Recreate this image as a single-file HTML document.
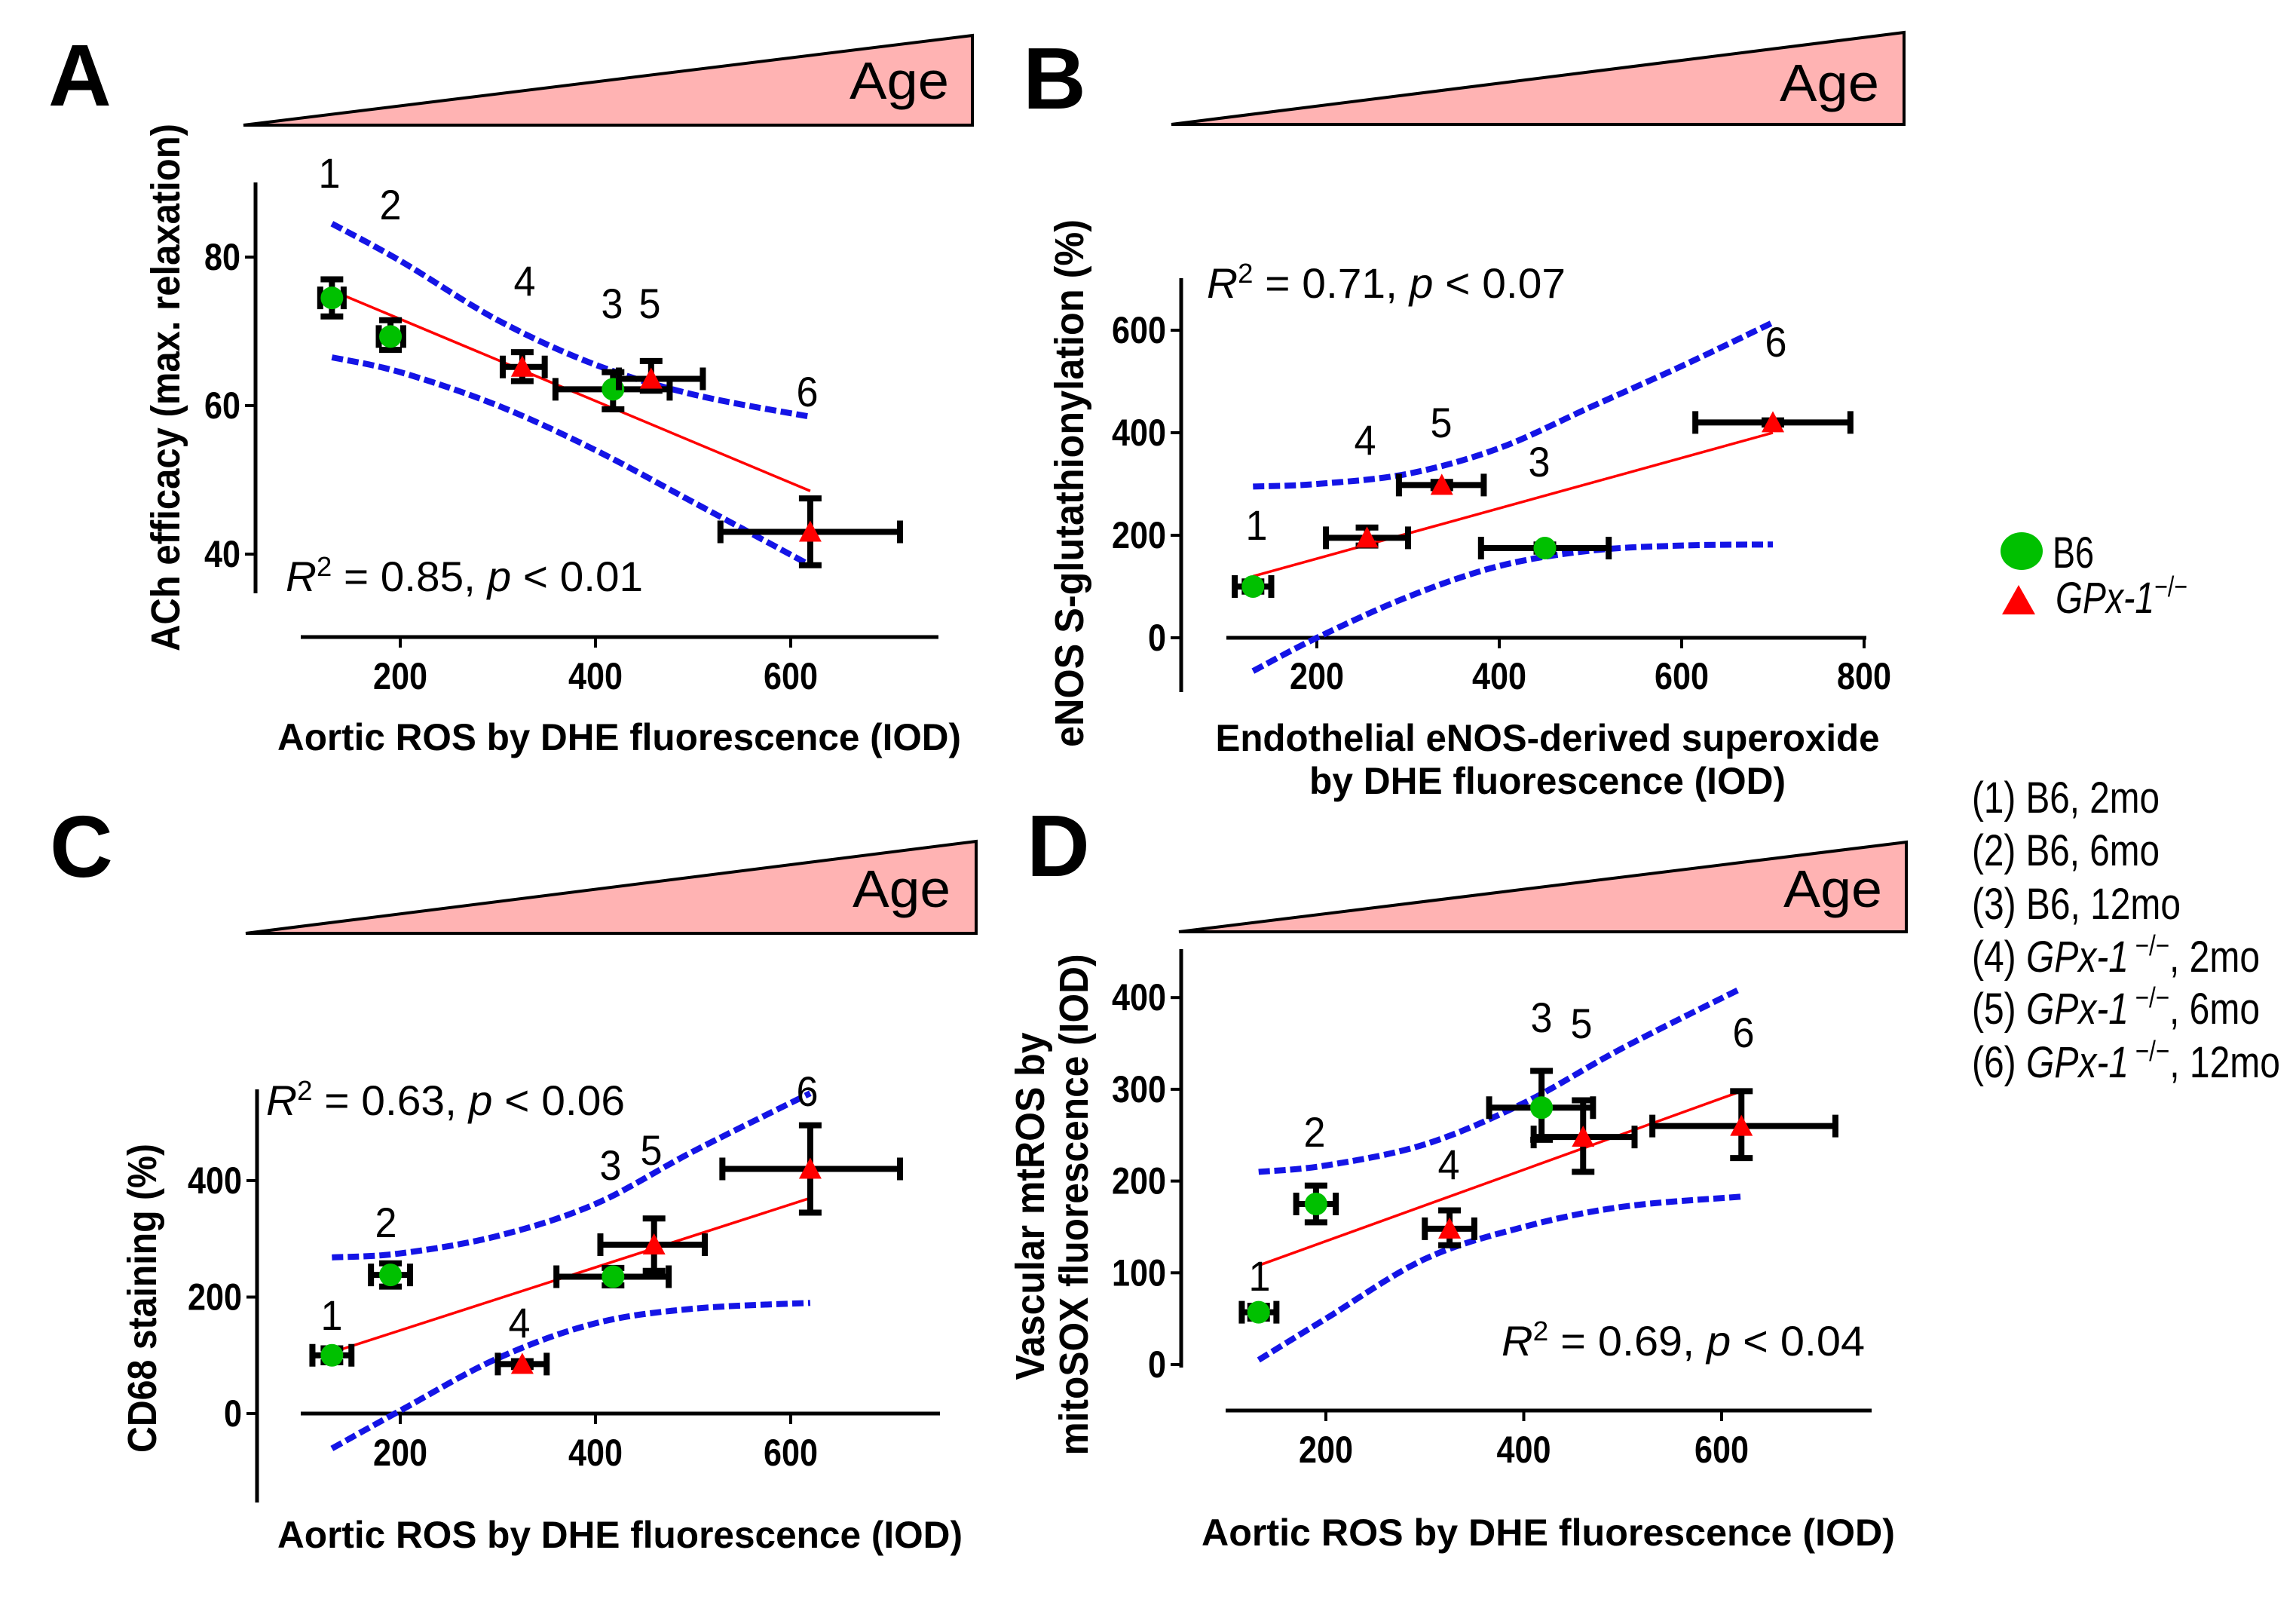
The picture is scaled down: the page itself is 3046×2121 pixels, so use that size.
<!DOCTYPE html>
<html><head><meta charset="utf-8"><style>
html,body{margin:0;padding:0;background:#fff}
svg{display:block}
text{font-family:"Liberation Sans",sans-serif}
</style></head><body>
<svg id="fig" xmlns="http://www.w3.org/2000/svg" width="3046" height="2121" viewBox="0 0 3046 2121">
<rect width="3046" height="2121" fill="#fff"/>
<!-- Age wedges -->
<g><polygon points="323,166 1290,47 1290,166" fill="#ffb3b3" stroke="#000" stroke-width="4"/><text x="1259" y="131" font-size="70" text-anchor="end" textLength="132" lengthAdjust="spacingAndGlyphs">Age</text></g>
<g><polygon points="1554,165 2526,43 2526,165" fill="#ffb3b3" stroke="#000" stroke-width="4"/><text x="2493" y="134" font-size="70" text-anchor="end" textLength="132" lengthAdjust="spacingAndGlyphs">Age</text></g>
<g><polygon points="326,1238 1295,1116 1295,1238" fill="#ffb3b3" stroke="#000" stroke-width="4"/><text x="1261" y="1203" font-size="70" text-anchor="end" textLength="130" lengthAdjust="spacingAndGlyphs">Age</text></g>
<g><polygon points="1564,1236 2529,1117 2529,1236" fill="#ffb3b3" stroke="#000" stroke-width="4"/><text x="2497" y="1203" font-size="70" text-anchor="end" textLength="131" lengthAdjust="spacingAndGlyphs">Age</text></g>
<!-- panel letters -->
<text x="64" y="140" font-size="116" font-weight="bold">A</text>
<text x="1357" y="144" font-size="116" font-weight="bold">B</text>
<text x="66" y="1163" font-size="116" font-weight="bold">C</text>
<text x="1362" y="1162" font-size="116" font-weight="bold">D</text>
<!-- axis titles -->
<text x="368" y="995" font-size="50" font-weight="bold" textLength="907" lengthAdjust="spacingAndGlyphs">Aortic ROS by DHE fluorescence (IOD)</text>
<text transform="translate(238,514) rotate(-90)" font-size="54" font-weight="bold" text-anchor="middle" textLength="700" lengthAdjust="spacingAndGlyphs">ACh efficacy (max. relaxation)</text>
<text x="2053" y="996" font-size="50" font-weight="bold" text-anchor="middle" textLength="881" lengthAdjust="spacingAndGlyphs">Endothelial eNOS-derived superoxide</text>
<text x="2053" y="1053" font-size="50" font-weight="bold" text-anchor="middle" textLength="632" lengthAdjust="spacingAndGlyphs">by DHE fluorescence (IOD)</text>
<text transform="translate(1437,641) rotate(-90)" font-size="54" font-weight="bold" text-anchor="middle" textLength="700" lengthAdjust="spacingAndGlyphs">eNOS S-glutathionylation (%)</text>
<text x="368" y="2053" font-size="50" font-weight="bold" textLength="909" lengthAdjust="spacingAndGlyphs">Aortic ROS by DHE fluorescence (IOD)</text>
<text transform="translate(207,1722) rotate(-90)" font-size="54" font-weight="bold" text-anchor="middle" textLength="410" lengthAdjust="spacingAndGlyphs">CD68 staining (%)</text>
<text x="1594" y="2050" font-size="50" font-weight="bold" textLength="920" lengthAdjust="spacingAndGlyphs">Aortic ROS by DHE fluorescence (IOD)</text>
<text transform="translate(1385,1600) rotate(-90)" font-size="54" font-weight="bold" text-anchor="middle" textLength="461" lengthAdjust="spacingAndGlyphs">Vascular mtROS by</text>
<text transform="translate(1443,1598) rotate(-90)" font-size="54" font-weight="bold" text-anchor="middle" textLength="665" lengthAdjust="spacingAndGlyphs">mitoSOX fluorescence (IOD)</text>
<!-- stats -->
<text x="379" y="784" font-size="56" textLength="474" lengthAdjust="spacingAndGlyphs"><tspan font-style="italic">R</tspan><tspan dy="-20" font-size="36">2</tspan><tspan dy="20"> = 0.85, </tspan><tspan font-style="italic">p</tspan> &lt; 0.01</text>
<text x="1601" y="395" font-size="56" textLength="476" lengthAdjust="spacingAndGlyphs"><tspan font-style="italic">R</tspan><tspan dy="-20" font-size="36">2</tspan><tspan dy="20"> = 0.71, </tspan><tspan font-style="italic">p</tspan> &lt; 0.07</text>
<text x="353" y="1479" font-size="56" textLength="476" lengthAdjust="spacingAndGlyphs"><tspan font-style="italic">R</tspan><tspan dy="-20" font-size="36">2</tspan><tspan dy="20"> = 0.63, </tspan><tspan font-style="italic">p</tspan> &lt; 0.06</text>
<text x="1992" y="1798" font-size="56" textLength="482" lengthAdjust="spacingAndGlyphs"><tspan font-style="italic">R</tspan><tspan dy="-20" font-size="36">2</tspan><tspan dy="20"> = 0.69, </tspan><tspan font-style="italic">p</tspan> &lt; 0.04</text>
<!-- legend -->
<g>
<g><ellipse cx="2682" cy="731" rx="28" ry="25" fill="#00c000"/><text x="2723" y="753" font-size="58" textLength="55" lengthAdjust="spacingAndGlyphs">B6</text></g>
<g><polygon points="2656,815 2700,815 2678,776" fill="#ff0000"/><text x="2727" y="813" font-size="58" font-style="italic" textLength="175" lengthAdjust="spacingAndGlyphs">GPx-1<tspan dy="-22" font-size="38" font-style="normal">−/−</tspan></text></g>
<g font-size="58">
<text x="2616" y="1078" textLength="249" lengthAdjust="spacingAndGlyphs">(1) B6, 2mo</text>
<text x="2616" y="1148" textLength="249" lengthAdjust="spacingAndGlyphs">(2) B6, 6mo</text>
<text x="2616" y="1219" textLength="277" lengthAdjust="spacingAndGlyphs">(3) B6, 12mo</text>
<text x="2616" y="1289" textLength="382" lengthAdjust="spacingAndGlyphs">(4) <tspan font-style="italic">GPx-1</tspan><tspan dy="-22" font-size="38"> −/−</tspan><tspan dy="22">, 2mo</tspan></text>
<text x="2616" y="1358" textLength="382" lengthAdjust="spacingAndGlyphs">(5) <tspan font-style="italic">GPx-1</tspan><tspan dy="-22" font-size="38"> −/−</tspan><tspan dy="22">, 6mo</tspan></text>
<text x="2616" y="1429" textLength="409" lengthAdjust="spacingAndGlyphs">(6) <tspan font-style="italic">GPx-1</tspan><tspan dy="-22" font-size="38"> −/−</tspan><tspan dy="22">, 12mo</tspan></text>
</g>
</g>
<g id="plots"></g>
</svg>
<script>
// ---------- data (order: groups 1..6) ----------
const groupLabels = ["1","2","3","4","5","6"];
const groupType = ["b6","b6","b6","gpx","gpx","gpx"];
// Panel A
const aX = [130,190,418,325,457,620];
const aXlo = [118,178,359,305,424,528];
const aXhi = [142,203,476,348,510,712];
const aY = [74.5,69.3,62.2,65.2,63.6,43];
const aYlo = [72,67.5,59.5,63.3,62,38.5];
const aYhi = [77,71.5,64.5,67.2,66,47.5];
const aFitX = [130,620], aFitY = [75.5,48.5];
const aBandX = [130,200,300,400,500,620];
const aUpper = [84.5,79.5,71.5,65.5,61.5,58.5];
const aLower = [66.5,64.5,60,54,47,38.5];
const aYTicks = [40,60,80], aXTicks = [200,400,600];
// Panel B
const bX = [130,0,450,255,337,700];
const bXlo = [110,0,380,210,290,615];
const bXhi = [150,0,520,300,383,785];
const bY = [100,null,175,195,298,420];
const bYlo = [90,null,168,180,292,416];
const bYhi = [110,null,182,215,304,424];
const bFitX = [130,700], bFitY = [120,400];
const bBandX = [130,200,300,400,500,600,700];
const bUpper = [295,300,320,370,450,530,615];
const bLower = [-65,0,80,140,170,180,182];
const bYTicks = [0,200,400,600], bXTicks = [200,400,600,800];
// Panel C
const cX = [130,190,418,325,460,620];
const cXlo = [110,170,360,300,405,530];
const cXhi = [150,210,475,350,512,712];
const cY = [100,238,235,85,290,420];
const cYlo = [88,218,220,80,245,345];
const cYhi = [112,258,250,90,335,495];
const cFitX = [130,620], cFitY = [105,370];
const cBandX = [130,200,300,400,500,620];
const cUpper = [268,275,305,360,450,550];
const cLower = [-60,5,95,155,180,190];
const cYTicks = [0,200,400], cXTicks = [200,400,600];
// Panel D
const dX = [132,190,418,325,460,620];
const dXlo = [115,170,365,300,410,530];
const dXhi = [150,210,470,350,512,715];
const dY = [57,175,280,148,248,260];
const dYlo = [50,155,245,130,210,225];
const dYhi = [64,195,320,168,288,298];
const dFitX = [132,620], dFitY = [108,298];
const dBandX = [132,200,300,400,500,620];
const dUpper = [210,217,240,285,345,410];
const dLower = [5,50,115,150,172,183];
const dYTicks = [0,100,200,300,400], dXTicks = [200,400,600];

const NS = "http://www.w3.org/2000/svg";
const root = document.getElementById("plots");
function mk(tag, attrs, parent){const e=document.createElementNS(NS,tag);for(const k in attrs)e.setAttribute(k,attrs[k]);(parent||root).appendChild(e);return e;}

function smoothPath(pts){
  let d="M"+pts[0][0]+","+pts[0][1];
  for(let i=0;i<pts.length-1;i++){
    const p0=pts[Math.max(0,i-1)],p1=pts[i],p2=pts[i+1],p3=pts[Math.min(pts.length-1,i+2)];
    const c1=[p1[0]+(p2[0]-p0[0])/6,p1[1]+(p2[1]-p0[1])/6];
    const c2=[p2[0]-(p3[0]-p1[0])/6,p2[1]-(p3[1]-p1[1])/6];
    d+=" C"+c1[0]+","+c1[1]+" "+c2[0]+","+c2[1]+" "+p2[0]+","+p2[1];
  }
  return d;
}

function drawPanel(id, ax, d){
  const g=mk("g",{});
  
  
  const sx=v=>ax.x0+(v-ax.xv0)*ax.xs, sy=v=>ax.y0-(v-ax.yv0)*ax.ys;
  const ya=mk("line",{x1:ax.yax,y1:ax.yTop,x2:ax.yax,y2:ax.yBot,stroke:"#000","stroke-width":5},g);
  
  
  const xa=mk("line",{x1:ax.xL,y1:ax.xax,x2:ax.xR,y2:ax.xax,stroke:"#000","stroke-width":5},g);
  
  
  d.yTicks.forEach(t=>{
    const y=sy(t);
    mk("line",{x1:ax.yax-14,y1:y,x2:ax.yax,y2:y,stroke:"#000","stroke-width":4},g);
    const s=String(t);
    const tx=mk("text",{x:ax.yax-20,y:y+17,"font-size":50,"font-weight":"bold","text-anchor":"end",textLength:24*s.length,lengthAdjust:"spacingAndGlyphs"},g);
    tx.textContent=s;
    
    
  });
  d.xTicks.forEach(t=>{
    const x=sx(t);
    mk("line",{x1:x,y1:ax.xax,x2:x,y2:ax.xax+14,stroke:"#000","stroke-width":4},g);
    const s=String(t);
    const tx=mk("text",{x:x,y:ax.xax+ax.xlOff+17,"font-size":50,"font-weight":"bold","text-anchor":"middle",textLength:24*s.length,lengthAdjust:"spacingAndGlyphs"},g);
    tx.textContent=s;
    
    
  });
  [d.upper,d.lower].forEach((arr,k)=>{
    const pts=d.bandX.map((x,i)=>[sx(x),sy(arr[i])]);
    const p=mk("path",{d:smoothPath(pts),fill:"none",stroke:"#1414e6","stroke-width":8,"stroke-dasharray":"15 6"},g);
    
    
  });
  const fl=mk("line",{x1:sx(d.fitX[0]),y1:sy(d.fitY[0]),x2:sx(d.fitX[1]),y2:sy(d.fitY[1]),stroke:"#ff0000","stroke-width":3.5},g);
  
  
  d.x.forEach((xv,i)=>{
    if(d.y[i]===null||d.y[i]===undefined) return;
    const pg=mk("g",{},g);
    
    
    const cx=sx(xv), cy=sy(d.y[i]);
    const x1=sx(d.xlo[i]),x2=sx(d.xhi[i]),y1=sy(d.yhi[i]),y2=sy(d.ylo[i]);
    const st={stroke:"#000","stroke-width":8};
    mk("line",Object.assign({x1:x1,y1:cy,x2:x2,y2:cy},st),pg);
    mk("line",Object.assign({x1:x1,y1:cy-15,x2:x1,y2:cy+15},st),pg);
    mk("line",Object.assign({x1:x2,y1:cy-15,x2:x2,y2:cy+15},st),pg);
    mk("line",Object.assign({x1:cx,y1:y1,x2:cx,y2:y2},st),pg);
    mk("line",Object.assign({x1:cx-15,y1:y1,x2:cx+15,y2:y1},st),pg);
    mk("line",Object.assign({x1:cx-15,y1:y2,x2:cx+15,y2:y2},st),pg);
    if(groupType[i]==="b6") mk("ellipse",{cx:cx,cy:cy,rx:15,ry:15,fill:"#00c000"},pg);
    else mk("polygon",{points:(cx-15)+","+(cy+13)+" "+(cx+15)+","+(cy+13)+" "+cx+","+(cy-15),fill:"#ff0000"},pg);
  });
  d.labels.forEach((L,i)=>{
    if(!L) return;
    const t=mk("text",{x:L[0],y:L[1],"font-size":56,"text-anchor":"middle",textLength:29,lengthAdjust:"spacingAndGlyphs"},g);
    t.textContent=groupLabels[i];
    
    
  });
}

drawPanel("a",{x0:531,xv0:200,xs:259/200,y0:341,yv0:80,ys:197/20,yax:339,yTop:242,yBot:787,xax:845,xL:399,xR:1245,xlOff:52},
 {x:aX,xlo:aXlo,xhi:aXhi,y:aY,ylo:aYlo,yhi:aYhi,fitX:aFitX,fitY:aFitY,bandX:aBandX,upper:aUpper,lower:aLower,yTicks:aYTicks,xTicks:aXTicks,
  labels:[[437,249],[518,291],[812,422],[696,392],[862,422],[1071,539]]});
drawPanel("b",{x0:1747,xv0:200,xs:242/200,y0:846,yv0:0,ys:0.68,yax:1567,yTop:369,yBot:918,xax:846,xL:1627,xR:2476,xlOff:51},
 {x:bX,xlo:bXlo,xhi:bXhi,y:bY,ylo:bYlo,yhi:bYhi,fitX:bFitX,fitY:bFitY,bandX:bBandX,upper:bUpper,lower:bLower,yTicks:bYTicks,xTicks:bXTicks,
  labels:[[1667,716],null,[2042,632],[1811,603],[1912,580],[2356,473]]});
drawPanel("c",{x0:531,xv0:200,xs:259/200,y0:1875,yv0:0,ys:0.7725,yax:341,yTop:1445,yBot:1993,xax:1875,xL:399,xR:1247,xlOff:52},
 {x:cX,xlo:cXlo,xhi:cXhi,y:cY,ylo:cYlo,yhi:cYhi,fitX:cFitX,fitY:cFitY,bandX:cBandX,upper:cUpper,lower:cLower,yTicks:cYTicks,xTicks:cXTicks,
  labels:[[440,1764],[512,1641],[810,1565],[689,1774],[864,1545],[1071,1467]]});
drawPanel("d",{x0:1759,xv0:200,xs:262.5/200,y0:1810,yv0:0,ys:1.217,yax:1567,yTop:1259,yBot:1814,xax:1871,xL:1626,xR:2483,xlOff:52},
 {x:dX,xlo:dXlo,xhi:dXhi,y:dY,ylo:dYlo,yhi:dYhi,fitX:dFitX,fitY:dFitY,bandX:dBandX,upper:dUpper,lower:dLower,yTicks:dYTicks,xTicks:dXTicks,
  labels:[[1671,1712],[1744,1521],[2045,1369],[1922,1564],[2098,1377],[2313,1389]]});
</script>
</body></html>
